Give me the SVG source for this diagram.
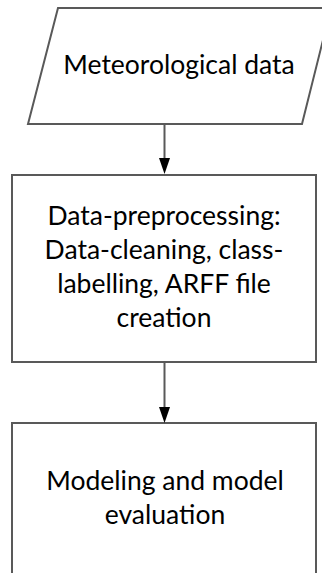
<svg xmlns="http://www.w3.org/2000/svg" width="322" height="573" viewBox="0 0 322 573">
  <defs>
    <marker id="arrow" markerUnits="userSpaceOnUse" markerWidth="16" markerHeight="11" viewBox="0 0 16 11" refX="8" refY="5.5" orient="auto">
      <path d="M0,0 L16,5.5 L0,11 Z" fill="#000"/>
    </marker>
  </defs>
  <style>
    .shape { fill: #fff; stroke: #595959; stroke-width: 2; }
    .conn { stroke: #595959; stroke-width: 2; fill: none; }
    .label { font-family: Lato, "Liberation Sans", sans-serif; font-size: 26.5px; fill: #000; text-anchor: middle; }
  </style>
  <rect width="322" height="573" fill="#fff"/>
  <g id="node-data">
    <polygon class="shape" points="58,8 331,8 302,124 28,124"/>
    <text class="label" x="179" y="74">Meteorological data</text>
  </g>
  <g id="node-preprocessing">
    <rect class="shape" x="12" y="175" width="304" height="187"/>
    <text class="label" x="164" y="225">Data-preprocessing:</text>
    <text class="label" x="164" y="259">Data-cleaning, class-</text>
    <text class="label" x="164" y="293">labelling, ARFF file</text>
    <text class="label" x="164" y="327">creation</text>
  </g>
  <g id="node-modeling">
    <rect class="shape" x="12" y="423" width="304" height="162"/>
    <text class="label" x="165" y="490">Modeling and model</text>
    <text class="label" x="165" y="524">evaluation</text>
  </g>
  <g id="connectors">
    <line class="conn" x1="164.5" y1="124" x2="164.5" y2="166" marker-end="url(#arrow)"/>
    <line class="conn" x1="164.5" y1="362" x2="164.5" y2="415" marker-end="url(#arrow)"/>
  </g>
</svg>
